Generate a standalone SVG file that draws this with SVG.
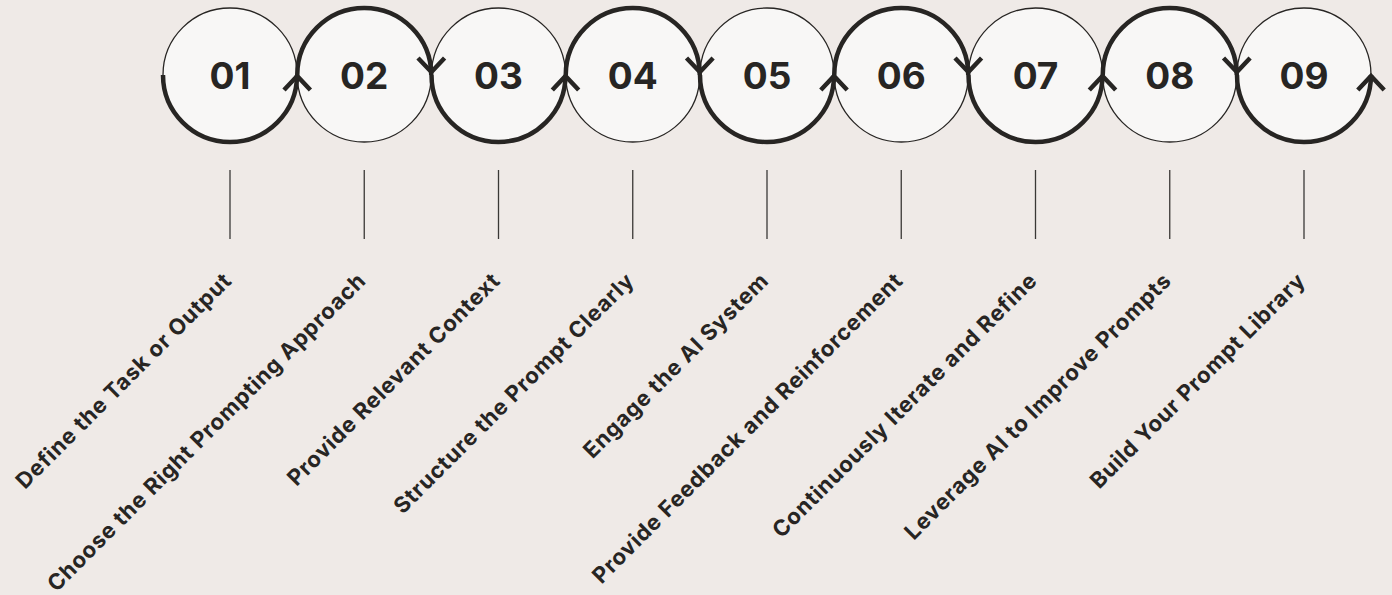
<svg xmlns="http://www.w3.org/2000/svg" width="1392" height="595" viewBox="0 0 1392 595">
<style>
.bg{fill:#efeae7}
.c{fill:#f8f7f6;stroke:#272523;stroke-width:1.3}
.thick{fill:none;stroke:#272523;stroke-width:4.5}
.chev{fill:none;stroke:#272523;stroke-width:4.5;stroke-linecap:butt;stroke-linejoin:miter}
.num{font-family:Inter,"Liberation Sans",sans-serif;font-weight:700;font-size:37px;fill:#272523;text-anchor:middle}
.vl{stroke:#3a3836;stroke-width:1.3}
.lbl{font-family:Inter,"Liberation Sans",sans-serif;font-weight:700;font-size:22px;letter-spacing:0.8px;fill:#272523;text-anchor:end}
</style>
<rect class="bg" x="0" y="0" width="1392" height="595"/>
<g id="node-01"><circle class="c" cx="230" cy="75" r="67"/><text class="num" x="230" y="89">01</text></g>
<g id="node-02"><circle class="c" cx="364.25" cy="75" r="67"/><text class="num" x="364.25" y="89">02</text></g>
<g id="node-03"><circle class="c" cx="498.5" cy="75" r="67"/><text class="num" x="498.5" y="89">03</text></g>
<g id="node-04"><circle class="c" cx="632.75" cy="75" r="67"/><text class="num" x="632.75" y="89">04</text></g>
<g id="node-05"><circle class="c" cx="767" cy="75" r="67"/><text class="num" x="767" y="89">05</text></g>
<g id="node-06"><circle class="c" cx="901.25" cy="75" r="67"/><text class="num" x="901.25" y="89">06</text></g>
<g id="node-07"><circle class="c" cx="1035.5" cy="75" r="67"/><text class="num" x="1035.5" y="89">07</text></g>
<g id="node-08"><circle class="c" cx="1169.75" cy="75" r="67"/><text class="num" x="1169.75" y="89">08</text></g>
<g id="node-09"><circle class="c" cx="1304" cy="75" r="67"/><text class="num" x="1304" y="89">09</text></g>
<g id="connectors">
<path class="thick" d="M163,75 A67,67 0 0 0 297,75"/>
<path class="chev" d="M284,90 L297.2,76 L310.4,90"/>
<path class="thick" d="M297.25,75 A67,67 0 0 1 431.25,75"/>
<path class="chev" d="M418,58 L431.4,72 L444.6,58"/>
<path class="thick" d="M431.5,75 A67,67 0 0 0 565.5,75"/>
<path class="chev" d="M552.3,90 L565.5,76 L578.7,90"/>
<path class="thick" d="M565.75,75 A67,67 0 0 1 699.75,75"/>
<path class="chev" d="M686.5,58 L699.9,72 L713.1,58"/>
<path class="thick" d="M700,75 A67,67 0 0 0 834,75"/>
<path class="chev" d="M820.8,90 L834,76 L847.2,90"/>
<path class="thick" d="M834.25,75 A67,67 0 0 1 968.25,75"/>
<path class="chev" d="M955,58 L968.4,72 L981.6,58"/>
<path class="thick" d="M968.5,75 A67,67 0 0 0 1102.5,75"/>
<path class="chev" d="M1089.3,90 L1102.5,76 L1115.7,90"/>
<path class="thick" d="M1102.75,75 A67,67 0 0 1 1236.75,75"/>
<path class="chev" d="M1223.5,58 L1236.9,72 L1250.1,58"/>
<path class="thick" d="M1237,75 A67,67 0 0 0 1371,75"/>
<path class="chev" d="M1357.8,90 L1371,76 L1384.2,90"/>
<line class="vl" x1="230" y1="170" x2="230" y2="239"/>
<line class="vl" x1="364.25" y1="170" x2="364.25" y2="239"/>
<line class="vl" x1="498.5" y1="170" x2="498.5" y2="239"/>
<line class="vl" x1="632.75" y1="170" x2="632.75" y2="239"/>
<line class="vl" x1="767" y1="170" x2="767" y2="239"/>
<line class="vl" x1="901.25" y1="170" x2="901.25" y2="239"/>
<line class="vl" x1="1035.5" y1="170" x2="1035.5" y2="239"/>
<line class="vl" x1="1169.75" y1="170" x2="1169.75" y2="239"/>
<line class="vl" x1="1304" y1="170" x2="1304" y2="239"/>
</g>
<g id="labels">
<text class="lbl" transform="translate(233,282) rotate(-45)">Define the Task or Output</text>
<text class="lbl" transform="translate(367.25,282) rotate(-45)">Choose the Right Prompting Approach</text>
<text class="lbl" transform="translate(501.5,282) rotate(-45)">Provide Relevant Context</text>
<text class="lbl" transform="translate(635.75,282) rotate(-45)">Structure the Prompt Clearly</text>
<text class="lbl" transform="translate(770,282) rotate(-45)">Engage the AI System</text>
<text class="lbl" transform="translate(904.25,282) rotate(-45)">Provide Feedback and Reinforcement</text>
<text class="lbl" transform="translate(1038.5,282) rotate(-45)">Continuously Iterate and Refine</text>
<text class="lbl" transform="translate(1172.75,282) rotate(-45)">Leverage AI to Improve Prompts</text>
<text class="lbl" transform="translate(1307,282) rotate(-45)">Build Your Prompt Library</text>
</g>
</svg>
